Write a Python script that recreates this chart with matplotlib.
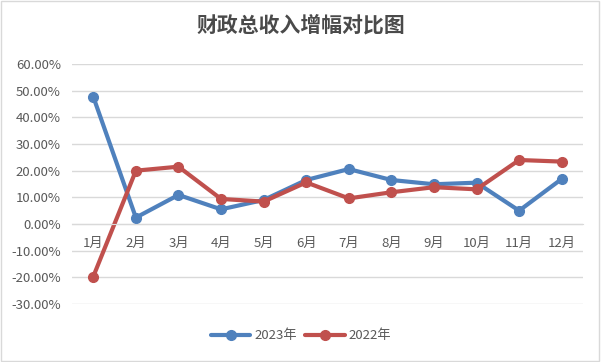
import matplotlib.pyplot as plt
from matplotlib.patches import Rectangle
from matplotlib.ticker import FuncFormatter

plt.rcParams['font.family'] = ['Noto Sans CJK SC', 'DejaVu Sans']

months = ["1月", "2月", "3月", "4月", "5月", "6月", "7月", "8月", "9月", "10月", "11月", "12月"]
y2023 = [47.7, 2.4, 10.9, 5.5, 9.0, 16.5, 20.6, 16.5, 14.9, 15.5, 5.0, 16.9]
y2022 = [-19.7, 20.0, 21.5, 9.4, 8.4, 15.6, 9.6, 11.9, 13.8, 13.0, 24.0, 23.4]
yticks = [-30, -20, -10, 0, 10, 20, 30, 40, 50, 60]

text_color = "#595959"
grid_color = "#d9d9d9"

fig = plt.figure(figsize=(6.02, 3.62), dpi=100)
ax = fig.add_axes([72 / 602, 1 - 304 / 362, 511 / 602, 240 / 362])

x = range(len(months))
ax.plot(x, y2023, color="#4f81bd", lw=3, marker="o", ms=7, label="2023年",
        solid_capstyle="round")
ax.plot(x, y2022, color="#c0504d", lw=3, marker="o", ms=7, label="2022年",
        solid_capstyle="round")

ax.set_xlim(-0.5, len(months) - 0.5)
ax.set_ylim(-30, 60)
ax.set_yticks(yticks)
ax.yaxis.set_major_formatter(FuncFormatter(lambda v, p: f"{v:.2f}%"))
ax.set_xticks(list(x))
ax.set_xticklabels(months)
ax.grid(axis="y", color=grid_color, lw=1)
ax.set_axisbelow(True)

for side in ["top", "right", "left"]:
    ax.spines[side].set_visible(False)
ax.spines["bottom"].set_position(("data", 0))
ax.spines["bottom"].set_color(grid_color)
ax.tick_params(length=0, colors=text_color, labelsize=9.5)
ax.tick_params(axis="x", pad=9)
ax.tick_params(axis="y", pad=8)

fig.text(0.5, 1 - 25 / 362, "财政总收入增幅对比图", ha="center", va="center",
         fontsize=15, fontweight="bold", color="#4a4a4a")

fig.legend(loc="center", bbox_to_anchor=(0.5, 1 - 336 / 362), ncol=2, frameon=False,
           fontsize=9.5, labelcolor=text_color, handlelength=3, columnspacing=0.6,
           handletextpad=0.3)

fig.patches.append(Rectangle((0.002, 0.004), 0.993, 0.992, transform=fig.transFigure,
                             fill=False, edgecolor="#d9d9d9", lw=1))

fig.savefig("out.png", dpi=100)
